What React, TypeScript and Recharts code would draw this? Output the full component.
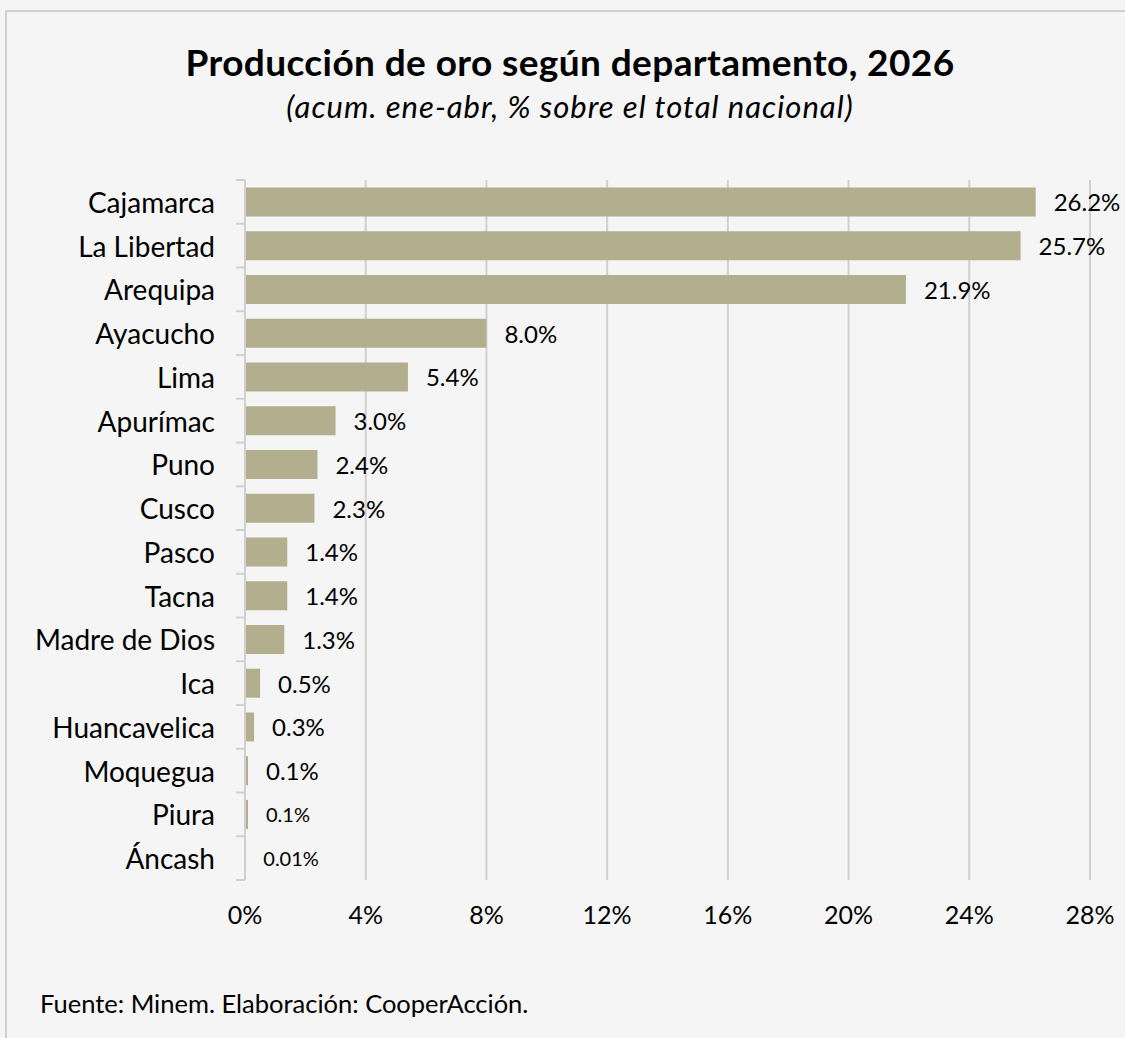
import { Bar, BarChart, CartesianGrid, LabelList, XAxis, YAxis } from "recharts";

const departments = [
  "Cajamarca",
  "La Libertad",
  "Arequipa",
  "Ayacucho",
  "Lima",
  "Apurímac",
  "Puno",
  "Cusco",
  "Pasco",
  "Tacna",
  "Madre de Dios",
  "Ica",
  "Huancavelica",
  "Moquegua",
  "Piura",
  "Áncash",
];

const shares = [26.2, 25.7, 21.9, 8.0, 5.4, 3.0, 2.4, 2.3, 1.4, 1.4, 1.3, 0.5, 0.3, 0.1, 0.1, 0.01];

const xTicks = [0, 4, 8, 12, 16, 20, 24, 28];

const data = departments.map((name, i) => ({ name, value: shares[i] }));

// etiquetas que en el original van en un cuerpo más pequeño
const smallLabels = new Set(["Piura", "Áncash"]);

const FONT = "Lato, 'Open Sans', sans-serif";
const BG = "#f4f5f4";
const BAR = "#b2ae8e";
const GRID = "#d0d0d0";

const W = 1125;
const H = 1038;
const MARGIN = { top: 180, right: 35, bottom: 98, left: 0 };
const PLOT_H = H - MARGIN.top - MARGIN.bottom - 60;

function formatShare(v: number): string {
  return `${v < 0.1 ? v.toFixed(2) : v.toFixed(1)}%`;
}

function CategoryTick(props: any) {
  const { x, y, payload, index, visibleTicksCount } = props;
  const half = payload?.offset || PLOT_H / departments.length / 2;
  const isLast = index === visibleTicksCount - 1;
  return (
    <g>
      <line x1={x - 9} x2={x} y1={y - half} y2={y - half} stroke={GRID} strokeWidth={2} />
      {isLast && <line x1={x - 9} x2={x} y1={y + half} y2={y + half} stroke={GRID} strokeWidth={2} />}
      <text x={x - 30} y={y} textAnchor="end" dominantBaseline="central" fontFamily={FONT} fontSize={28} fill="#000">
        {payload.value}
      </text>
    </g>
  );
}

function ValueLabel(props: any) {
  const { x, y, width, height, value, index } = props;
  const small = smallLabels.has(departments[index]);
  return (
    <text
      x={x + width + 18}
      y={y + height / 2}
      dominantBaseline="central"
      fontFamily={FONT}
      fontSize={small ? 20 : 24}
      fill="#000"
    >
      {formatShare(value)}
    </text>
  );
}

export default function App() {
  return (
    <div style={{ position: "absolute", left: 0, top: 0, width: W, height: H, background: BG, overflow: "hidden" }}>
      <div
        style={{
          position: "absolute",
          left: 5,
          top: 10,
          width: W,
          height: H,
          borderLeft: `2px solid ${GRID}`,
          borderTop: `2px solid ${GRID}`,
        }}
      />
      <svg width={W} height={H} style={{ position: "absolute", left: 0, top: 0 }}>
        <text
          x={570}
          y={76}
          textAnchor="middle"
          fontFamily={FONT}
          fontWeight={700}
          fontSize={37}
          letterSpacing={0.4}
          fill="#000"
        >
          Producción de oro según departamento, 2026
        </text>
        <text
          x={570}
          y={118}
          textAnchor="middle"
          fontFamily={FONT}
          fontStyle="italic"
          fontSize={31}
          letterSpacing={1}
          fill="#000"
        >
          (acum. ene-abr, % sobre el total nacional)
        </text>
        <text x={40} y={1013} fontFamily={FONT} fontSize={25.5} fill="#000">
          Fuente: Minem. Elaboración: CooperAcción.
        </text>
      </svg>
      <div style={{ position: "absolute", left: 0, top: 0 }}>
        <BarChart width={W} height={H} data={data} layout="vertical" margin={MARGIN} barCategoryGap="17%">
          <CartesianGrid vertical horizontal={false} stroke={GRID} strokeWidth={2} />
          <XAxis
            type="number"
            domain={[0, 28]}
            ticks={xTicks}
            tickFormatter={(v: number) => `${v}%`}
            axisLine={false}
            tickLine={false}
            tickSize={0}
            tickMargin={26}
            height={60}
            interval={0}
            tick={{ fill: "#000", fontSize: 25, fontFamily: FONT }}
          />
          <YAxis
            type="category"
            dataKey="name"
            width={245}
            axisLine={{ stroke: GRID, strokeWidth: 2 }}
            tickLine={false}
            tickSize={0}
            tickMargin={0}
            interval={0}
            tick={<CategoryTick />}
          />
          <Bar dataKey="value" fill={BAR} isAnimationActive={false}>
            <LabelList dataKey="value" content={<ValueLabel />} />
          </Bar>
        </BarChart>
      </div>
    </div>
  );
}
